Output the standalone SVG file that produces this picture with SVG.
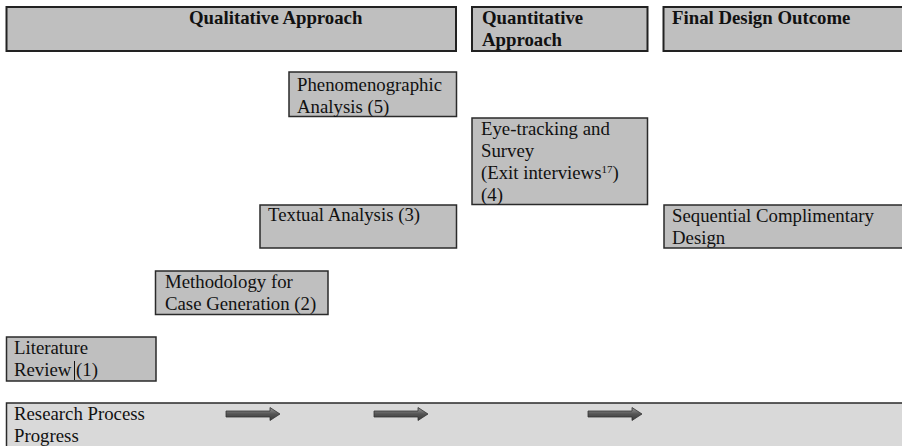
<svg xmlns="http://www.w3.org/2000/svg" width="902" height="446" viewBox="0 0 902 446">
  <defs>
    <style>
      .box { fill: #bfbfbf; stroke: #2a2a2a; stroke-width: 1.5; }
      .head { fill: #bfbfbf; stroke: #222; stroke-width: 2; }
      .bar { fill: #d9d9d9; stroke: #2a2a2a; stroke-width: 1.5; }
      text { font-family: "Liberation Serif", "Times New Roman", serif; font-size: 18.8px; fill: #111; }
      .b { font-weight: bold; }
      .sup { font-size: 11px; }
      .arrow { fill: url(#arrowFill); stroke: #333; stroke-width: 0.8; }
    </style>
    <linearGradient id="arrowFill" x1="0" y1="0" x2="0" y2="1">
      <stop offset="0" stop-color="#9a9a9a"/>
      <stop offset="0.5" stop-color="#555"/>
      <stop offset="1" stop-color="#3a3a3a"/>
    </linearGradient>
    <path id="progArrow" d="M0,-3 H44 V-6.5 L54,0 L44,6.5 V3 H0 Z"/>
  </defs>

  <!-- column headers -->
  <g id="qualitative-header">
    <rect class="head" x="6.5" y="7" width="449.5" height="44"/>
    <text class="b" x="189" y="24">Qualitative Approach</text>
  </g>
  <g id="quantitative-header">
    <rect class="head" x="472" y="7" width="175.5" height="44"/>
    <text class="b" x="482" y="24">Quantitative</text>
    <text class="b" x="482" y="46">Approach</text>
  </g>
  <g id="final-header">
    <rect class="head" x="663.5" y="7" width="245" height="44"/>
    <text class="b" x="672" y="24">Final Design Outcome</text>
  </g>

  <!-- process steps -->
  <g id="phenomenographic">
    <rect class="box" x="289" y="72" width="167.5" height="44.5"/>
    <text x="297" y="91">Phenomenographic</text>
    <text x="297" y="113">Analysis (5)</text>
  </g>
  <g id="eye-tracking">
    <rect class="box" x="472" y="118" width="175.5" height="86.5"/>
    <text x="481" y="135">Eye-tracking and</text>
    <text x="481" y="157">Survey</text>
    <text x="481" y="179">(Exit interviews<tspan class="sup" dy="-6">17</tspan><tspan dy="6">)</tspan></text>
    <text x="481" y="201">(4)</text>
  </g>
  <g id="textual-analysis">
    <rect class="box" x="260" y="205" width="196.5" height="43"/>
    <text x="268" y="221">Textual Analysis (3)</text>
  </g>
  <g id="sequential-design">
    <rect class="box" x="664" y="205" width="245" height="43"/>
    <text x="672" y="222">Sequential Complimentary</text>
    <text x="672" y="244">Design</text>
  </g>
  <g id="methodology">
    <rect class="box" x="155.5" y="271" width="172.5" height="43.5"/>
    <text x="165" y="288">Methodology for</text>
    <text x="165" y="310">Case Generation (2)</text>
  </g>
  <g id="literature-review">
    <rect class="box" x="6.5" y="337" width="149.5" height="44"/>
    <text x="14" y="354">Literature</text>
    <text x="14" y="376">Review (1)</text>
    <line x1="74.5" y1="361" x2="74.5" y2="380" stroke="#111" stroke-width="1"/>
  </g>

  <!-- progress bar -->
  <g id="progress-bar">
    <rect class="bar" x="6.5" y="403" width="902" height="46"/>
    <text x="14" y="420">Research Process</text>
    <text x="14" y="442">Progress</text>
  </g>

  <!-- progress arrows -->
  <g id="connectors">
    <use href="#progArrow" class="arrow" x="226" y="414"/>
    <use href="#progArrow" class="arrow" x="374" y="414"/>
    <use href="#progArrow" class="arrow" x="588" y="414"/>
  </g>
</svg>
